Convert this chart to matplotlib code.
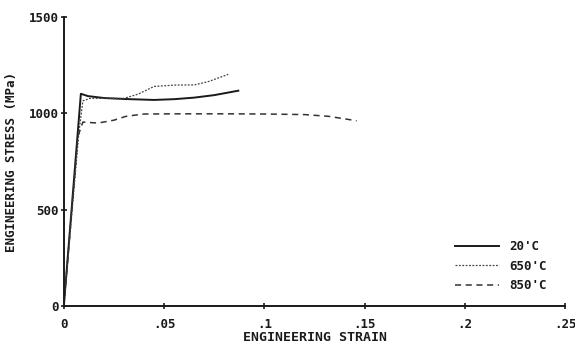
import matplotlib.pyplot as plt

strain_20 = [0, 0.0085, 0.012, 0.02, 0.03, 0.045, 0.055, 0.065, 0.075, 0.087]
stress_20 = [0, 1102, 1090, 1080, 1075, 1070, 1074, 1082, 1095, 1118]

strain_650 = [0, 0.0075, 0.0095, 0.013, 0.02, 0.03, 0.037, 0.045, 0.055, 0.065, 0.072, 0.082]
stress_650 = [0, 900, 1065, 1078, 1078, 1078, 1100, 1140, 1147, 1148, 1165, 1203]

strain_850 = [0, 0.007, 0.0095, 0.017, 0.025, 0.031, 0.04, 0.06, 0.08, 0.1, 0.12, 0.132, 0.146]
stress_850 = [0, 880, 955, 950, 965, 985, 997, 998, 998, 997, 994, 985, 962]

xticks = [0, 0.05, 0.1, 0.15, 0.2, 0.25]
xticklabels = ['0', '.05', '.1', '.15', '.2', '.25']
yticks = [0, 500, 1000, 1500]
yticklabels = ['0', '500', '1000', '1500']

font = {'family': 'DejaVu Sans Mono', 'weight': 'bold'}

fig = plt.figure(figsize=(5.75, 3.49), dpi=100)
ax = fig.add_axes([0.111, 0.123, 0.872, 0.828])

ink = '#1a1a1a'
ax.plot(strain_20, stress_20, color=ink, lw=1.4, label="20'C")
ax.plot(strain_650, stress_650, color='#444444', lw=0.9, ls=(0, (1.5, 1.2)), label="650'C")
ax.plot(strain_850, stress_850, color='#333333', lw=1.1, ls=(0, (4, 3)), label="850'C")

ax.set_xlim(0, 0.25)
ax.set_ylim(0, 1500)
for s in ['top', 'right']:
    ax.spines[s].set_visible(False)
for s in ['left', 'bottom']:
    ax.spines[s].set_linewidth(1.4)
    ax.spines[s].set_color(ink)

ax.set_xticks(xticks)
ax.set_xticklabels(xticklabels, fontdict=font, fontsize=9)
ax.set_yticks(yticks)
ax.set_yticklabels(yticklabels, fontdict=font, fontsize=9)
ax.tick_params(direction='inout', length=5, width=1.2, color=ink, labelcolor=ink)
ax.tick_params(axis='x', pad=6)
ax.tick_params(axis='y', pad=1)

ax.set_xlabel('ENGINEERING STRAIN', fontdict=font, fontsize=9.5, color=ink, labelpad=0)
ax.set_ylabel('ENGINEERING STRESS (MPa)', fontdict=font, fontsize=9, color=ink, labelpad=8)

leg = ax.legend(loc='lower right', bbox_to_anchor=(0.985, 0.01), frameon=False,
                prop={'family': 'DejaVu Sans Mono', 'weight': 'bold', 'size': 9},
                handlelength=3.5, labelspacing=0.5)
for t in leg.get_texts():
    t.set_color(ink)

fig.savefig('out.png', dpi=100)
